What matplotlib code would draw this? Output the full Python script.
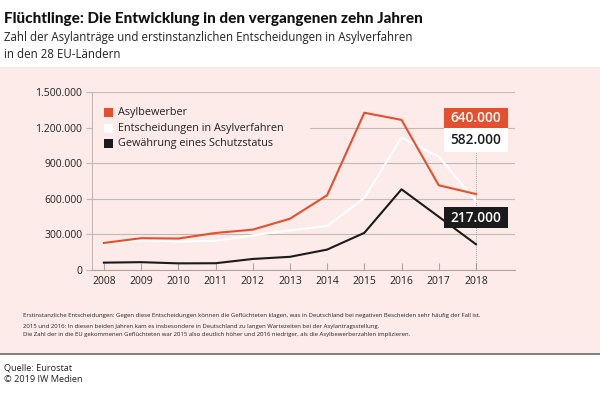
import matplotlib
matplotlib.use("Agg")
import matplotlib.pyplot as plt
from matplotlib.patches import Rectangle
from matplotlib.lines import Line2D

years = [2008, 2009, 2010, 2011, 2012, 2013, 2014, 2015, 2016, 2017, 2018]
asylbewerber = [228000, 268000, 265000, 312000, 340000, 432000, 630000, 1325000, 1265000, 714000, 640000]
entscheidungen = [226000, 250000, 240000, 246000, 292000, 334000, 371000, 607000, 1115000, 955000, 582000]
schutzstatus = [62000, 66000, 56000, 57000, 93000, 111000, 172000, 313000, 680000, 449000, 217000]
yticks = [0, 300000, 600000, 900000, 1200000, 1500000]
ytick_labels = ["0", "300.000", "600.000", "900.000", "1.200.000", "1.500.000"]
series_names = ["Asylbewerber", "Entscheidungen in Asylverfahren", "Gewährung eines Schutzstatus"]
end_labels = ["640.000", "582.000", "217.000"]

ORANGE = "#e64f2d"
BLACK = "#1b1b1b"
WHITE = "#ffffff"
PINK = "#fcebe8"
GRID = "#c4b7b4"

plt.rcParams['font.family'] = ['Open Sans', 'DejaVu Sans']

W, H = 600, 398
fig = plt.figure(figsize=(6, 3.98), dpi=100)
fig.patch.set_facecolor("white")

# pink panel
fig.patches.append(Rectangle((0, 1 - 353 / H), 1, (353 - 67) / H, transform=fig.transFigure,
                             facecolor=PINK, edgecolor="none", zorder=-5))
fig.lines.append(Line2D([0, 1], [1 - 353.5 / H] * 2, transform=fig.transFigure, color="#6a6a6a", lw=1.2,
                        zorder=-4))

# titles
fig.text(4 / W, 1 - 19 / H, "Flüchtlinge: Die Entwicklung in den vergangenen zehn Jahren",
         fontsize=11.0, fontweight="black", family=["Lato", "DejaVu Sans"], color="#111111",
         va="center", ha="left")
fig.text(4 / W, 1 - 38 / H, "Zahl der Asylanträge und erstinstanzlichen Entscheidungen in Asylverfahren",
         fontsize=8.3, color="#222222", va="center", ha="left")
fig.text(4 / W, 1 - 54 / H, "in den 28 EU-Ländern", fontsize=8.3, color="#222222", va="center", ha="left")

# axes
ax = fig.add_axes([92 / W, 1 - 270 / H, (515 - 92) / W, (270 - 92) / H])
ax.set_zorder(5)
ax.set_facecolor("none")
ax.set_xlim(2007.68, 2019.05)
ax.set_ylim(0, 1500000)
for sp in ["top", "right"]:
    ax.spines[sp].set_visible(False)
ax.spines["left"].set_color(GRID)
ax.spines["bottom"].set_color("#b0a4a2")
ax.spines["left"].set_linewidth(0.8)
ax.spines["bottom"].set_linewidth(0.8)
ax.set_yticks(yticks)
ax.set_yticklabels(ytick_labels)
ax.set_xticks(years)
ax.set_xticklabels([str(y) for y in years])
ax.tick_params(axis="y", length=4, color=GRID, labelsize=7.5, labelcolor="#222222", pad=3)
ax.tick_params(axis="x", direction="in", length=5, color="#b0a4a2", labelsize=7.5, labelcolor="#222222", pad=4)
ax.grid(axis="y", color=GRID, lw=0.8, zorder=1)
ax.set_axisbelow(True)

ax.plot(years, entscheidungen, color=WHITE, lw=1.5, zorder=3)
ax.plot(years, schutzstatus, color=BLACK, lw=1.5, zorder=4)
ax.plot(years, asylbewerber, color=ORANGE, lw=1.5, zorder=5)

# legend (manual)
ax.add_patch(Rectangle((0.003, 0.66), (310 - 93) / 423, 0.33, transform=ax.transAxes,
                       facecolor=PINK, edgecolor="none", zorder=2))
leg_colors = [ORANGE, WHITE, BLACK]
leg_y = [112, 128, 143]
for name, c, yy in zip(series_names, leg_colors, leg_y):
    fy = (270 - yy) / 178
    ax.add_patch(Rectangle(((104 - 92) / 423, fy - 4.5 / 178), 9 / 423, 9 / 178, transform=ax.transAxes,
                           facecolor=c, edgecolor="none", zorder=3))
    ax.text((118 - 92) / 423, fy, name, transform=ax.transAxes, fontsize=7.8, color="#222222",
            va="center", ha="left", zorder=3)

# dotted line at last year
ax.plot([years[-1], years[-1]], [0, 1500000 * (270 - 152) / 178], color="#8a8a8a", lw=0.6,
        ls=(0, (1, 1.5)), zorder=2)

# end labels
boxes = [(108, 128, ORANGE, WHITE), (128, 152, WHITE, BLACK), (207, 228, BLACK, WHITE)]
for lab, (y0, y1, fc, tc) in zip(end_labels, boxes):
    fy0 = (270 - y1) / 178
    fy1 = (270 - y0) / 178
    ax.add_patch(Rectangle(((444 - 92) / 423, fy0), 64 / 423, fy1 - fy0, transform=ax.transAxes,
                           facecolor=fc, edgecolor="none", zorder=6, clip_on=False))
    ax.text((476 - 92) / 423, (fy0 + fy1) / 2, lab, transform=ax.transAxes, fontsize=9.8,
            fontweight="semibold", color=tc, va="center", ha="center", zorder=7)

# footnotes
fn = 4.35
fig.text(23 / W, 1 - 315 / H,
         "Erstinstanzliche Entscheidungen: Gegen diese Entscheidungen können die Geflüchteten klagen, was in Deutschland bei negativen Bescheiden sehr häufig der Fall ist.",
         fontsize=fn, color="#222222", va="center", ha="left")
fig.text(23 / W, 1 - 326.5 / H,
         "2015 und 2016: In diesen beiden Jahren kam es insbesondere in Deutschland zu langen Wartezeiten bei der Asylantragsstellung.",
         fontsize=fn, color="#222222", va="center", ha="left")
fig.text(23 / W, 1 - 334.5 / H,
         "Die Zahl der in die EU gekommenen Geflüchteten war 2015 also deutlich höher und 2016 niedriger, als die Asylbewerberzahlen implizieren.",
         fontsize=fn, color="#222222", va="center", ha="left")

fig.text(4 / W, 1 - 368 / H, "Quelle: Eurostat", fontsize=6.6, color="#222222", va="center", ha="left")
fig.text(4 / W, 1 - 380 / H, "© 2019 IW Medien", fontsize=6.6, color="#222222", va="center", ha="left")

fig.savefig("out.png", dpi=100, facecolor=fig.get_facecolor())
